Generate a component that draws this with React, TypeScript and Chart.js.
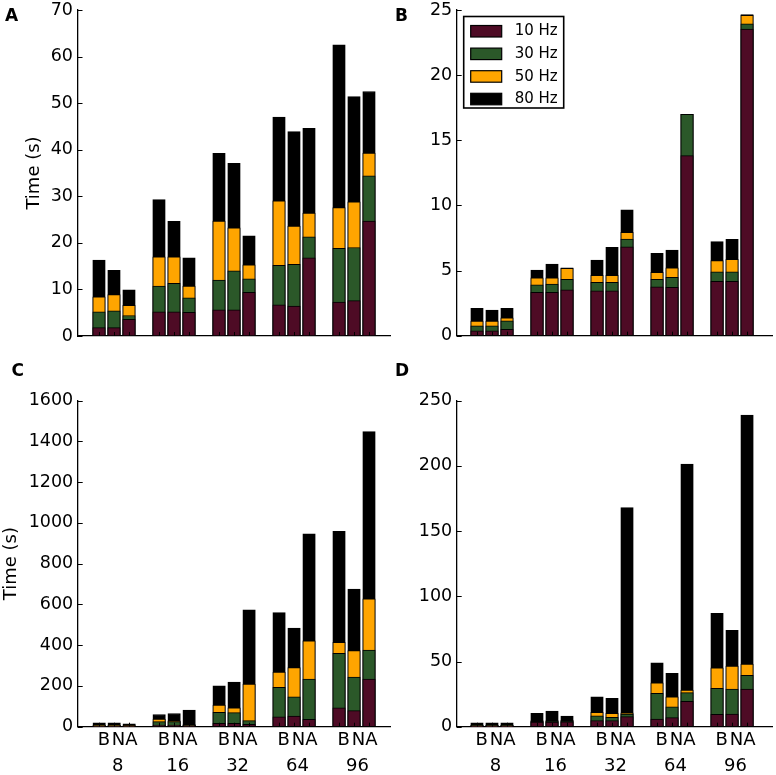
import React, { useEffect, useRef } from 'react';
import { Chart, registerables } from 'chart.js';

Chart.register(...registerables);

const FONT = '"DejaVu Sans", "Liberation Sans", sans-serif';
const W = 776;
const H = 775;

const groupLabels = ['8', '16', '32', '64', '96'];
const methodLabels = ['B', 'N', 'A'];
const seriesLabels = ['10 Hz', '30 Hz', '50 Hz', '80 Hz'];
const seriesColors = ['#4e0b25', '#2b5829', '#ffa500', '#000000'];

// Cumulative stack tops (time in s) per bar, order: 8B, 8N, 8A, 16B, 16N, 16A, ... 96A
// Panel A
const aUpTo10 = [1.8, 1.8, 3.6, 5.2, 5.2, 5.1, 5.6, 5.6, 9.4, 6.7, 6.4, 16.8, 7.3, 7.6, 24.7];
const aUpTo30 = [5.2, 5.4, 4.4, 10.7, 11.3, 8.2, 12.0, 14.0, 12.3, 15.2, 15.4, 21.3, 18.8, 19.0, 34.4];
const aUpTo50 = [8.4, 8.9, 6.6, 17.0, 17.0, 10.7, 24.7, 23.2, 15.3, 29.0, 23.6, 26.4, 27.6, 28.8, 39.3];
const aUpTo80 = [16.3, 14.1, 9.9, 29.3, 24.6, 16.8, 39.2, 37.1, 21.5, 47.0, 43.9, 44.6, 62.5, 51.4, 52.5];
// Panel B
const bUpTo10 = [0.38, 0.38, 0.49, 3.33, 3.33, 3.53, 3.45, 3.45, 6.83, 3.76, 3.71, 13.82, 4.17, 4.17, 23.54];
const bUpTo30 = [0.75, 0.75, 1.15, 3.9, 3.97, 4.32, 4.1, 4.1, 7.42, 4.32, 4.48, 17.0, 4.91, 4.91, 23.93];
const bUpTo50 = [1.13, 1.13, 1.38, 4.45, 4.45, 5.17, 4.63, 4.63, 7.93, 4.86, 5.2, 17.0, 5.76, 5.86, 24.6];
const bUpTo80 = [2.1, 1.97, 2.1, 5.04, 5.5, 5.2, 5.8, 6.78, 9.67, 6.32, 6.58, 17.0, 7.22, 7.4, 24.65];
// Panel C
const cUpTo10 = [2, 2, 2, 8, 8, 5, 16, 16, 12, 49, 52, 36, 93, 79, 234];
const cUpTo30 = [5, 5, 4, 25, 25, 8, 70, 69, 30, 193, 146, 234, 360, 244, 376];
const cUpTo50 = [8, 8, 6, 37, 29, 10, 106, 93, 209, 268, 290, 422, 414, 373, 627];
const cUpTo80 = [19, 19, 14, 60, 65, 82, 200, 219, 574, 560, 484, 946, 959, 676, 1448];
// Panel D
const dUpTo10 = [0.5, 0.5, 0.5, 3.5, 3.5, 3.8, 4.6, 4.6, 7.7, 5.9, 6.9, 19.4, 9.5, 9.7, 28.9];
const dUpTo30 = [1.0, 1.0, 1.0, 4.2, 4.3, 4.4, 8.4, 7.2, 9.7, 25.6, 15.3, 26.1, 29.4, 28.9, 39.4];
const dUpTo50 = [1.3, 1.3, 1.3, 4.6, 4.7, 4.8, 11.0, 10.2, 10.7, 33.7, 23.0, 28.1, 45.2, 46.5, 48.1];
const dUpTo80 = [3.0, 3.0, 3.0, 10.3, 12.0, 8.2, 23.0, 21.7, 168, 49.0, 40.9, 201.4, 86.9, 73.9, 239];

// y-axis tick settings per panel
const yMaxA = 70, yStepA = 10;
const yMaxB = 25, yStepB = 5;
const yMaxC = 1600, yStepC = 200;
const yMaxD = 250, yStepD = 50;

// bar slot positions on the x axis (4 slots per group, last one a gap)
const barX: number[] = [];
groupLabels.forEach((_, gi) => methodLabels.forEach((__, mi) => barX.push(gi * 4 + mi + 1)));
const groupCenterX = groupLabels.map((_, gi) => gi * 4 + 2);

type PanelCfg = {
  letter: string;
  letterX: number;
  letterY: number;
  series: number[][];
  yMax: number;
  yStep: number;
  area: { left: number; top: number; right: number; bottom: number };
  xMin: number;
  xMax: number;
  yAxisWidth: number;
  titlePad: number;
  showTitle: boolean;
  showXLabels: boolean;
  showLegend: boolean;
};

const panels: PanelCfg[] = [
  {
    letter: 'A', letterX: 5, letterY: 21,
    series: [aUpTo10, aUpTo30, aUpTo50, aUpTo80], yMax: yMaxA, yStep: yStepA,
    area: { left: 77.5, top: 10, right: 390, bottom: 336 },
    xMin: -0.433, xMax: 20.4, yAxisWidth: 57.5, titlePad: 3.2,
    showTitle: true, showXLabels: false, showLegend: false,
  },
  {
    letter: 'B', letterX: 395, letterY: 21,
    series: [bUpTo10, bUpTo30, bUpTo50, bUpTo80], yMax: yMaxB, yStep: yStepB,
    area: { left: 456.7, top: 10, right: 772.7, bottom: 335.7 },
    xMin: -0.353, xMax: 20.71, yAxisWidth: 45, titlePad: 0,
    showTitle: false, showXLabels: false, showLegend: true,
  },
  {
    letter: 'C', letterX: 11.5, letterY: 375.5,
    series: [cUpTo10, cUpTo30, cUpTo50, cUpTo80], yMax: yMaxC, yStep: yStepC,
    area: { left: 77.7, top: 400.7, right: 390, bottom: 726.7 },
    xMin: -0.433, xMax: 20.4, yAxisWidth: 76.7, titlePad: 0,
    showTitle: true, showXLabels: true, showLegend: false,
  },
  {
    letter: 'D', letterX: 395, letterY: 375.5,
    series: [dUpTo10, dUpTo30, dUpTo50, dUpTo80], yMax: yMaxD, yStep: yStepD,
    area: { left: 456.7, top: 400.7, right: 772.7, bottom: 726.7 },
    xMin: -0.353, xMax: 20.71, yAxisWidth: 45, titlePad: 0,
    showTitle: false, showXLabels: true, showLegend: false,
  },
];

function makeDecor(cfg: PanelCfg) {
  return {
    id: 'decor' + cfg.letter,
    afterDraw(chart: any) {
      const { ctx, chartArea, scales } = chart;
      ctx.save();
      ctx.strokeStyle = '#000';
      ctx.lineWidth = 1;
      ctx.beginPath();
      scales.y.ticks.forEach((t: any) => {
        const y = Math.round(scales.y.getPixelForValue(t.value)) + 0.5;
        ctx.moveTo(chartArea.left, y);
        ctx.lineTo(chartArea.left + 5, y);
      });
      barX.forEach((x) => {
        const px = Math.round(scales.x.getPixelForValue(x)) + 0.5;
        ctx.moveTo(px, chartArea.bottom);
        ctx.lineTo(px, chartArea.bottom - 4);
      });
      ctx.stroke();

      ctx.fillStyle = '#000';
      ctx.font = `bold 17px ${FONT}`;
      ctx.textAlign = 'left';
      ctx.textBaseline = 'alphabetic';
      ctx.fillText(cfg.letter, cfg.letterX, cfg.letterY);

      if (cfg.showLegend) {
        const lx = chartArea.left + 7;
        const ly = chartArea.top + 6.5;
        const lw = 100;
        const lh = 91.5;
        ctx.fillStyle = '#fff';
        ctx.fillRect(lx, ly, lw, lh);
        ctx.lineWidth = 1.6;
        ctx.strokeStyle = '#000';
        ctx.strokeRect(lx, ly, lw, lh);
        seriesLabels.forEach((lab, i) => {
          const sy = ly + 9 + i * 22.6;
          ctx.fillStyle = seriesColors[i];
          ctx.fillRect(lx + 7, sy, 31, 11.5);
          ctx.lineWidth = 1.2;
          ctx.strokeRect(lx + 7, sy, 31, 11.5);
          ctx.fillStyle = '#000';
          ctx.font = `15px ${FONT}`;
          ctx.textBaseline = 'middle';
          ctx.fillText(lab, lx + 51, sy + 6);
        });
      }
      ctx.restore();
    },
  };
}

function Panel({ cfg }: { cfg: PanelCfg }) {
  const ref = useRef<HTMLCanvasElement | null>(null);
  useEffect(() => {
    if (!ref.current) return;
    const xAxisHeight = cfg.showXLabels ? 48 : 0;
    const chart = new Chart(ref.current, {
      type: 'bar',
      data: {
        datasets: seriesLabels.map((lab, si) => ({
          label: lab,
          data: cfg.series[si].map((v, i) => ({ x: barX[i], y: v })),
          backgroundColor: seriesColors[si],
          borderColor: '#000',
          borderWidth: 1,
          borderSkipped: false,
          barThickness: 12.5,
        })),
      },
      options: {
        responsive: false,
        animation: false,
        devicePixelRatio: 1,
        events: [],
        layout: {
          padding: {
            left: cfg.area.left - cfg.yAxisWidth,
            top: cfg.area.top,
            right: W - cfg.area.right,
            bottom: H - cfg.area.bottom - xAxisHeight,
          },
        },
        plugins: { legend: { display: false }, tooltip: { enabled: false }, title: { display: false } },
        scales: {
          x: {
            type: 'linear',
            min: cfg.xMin,
            max: cfg.xMax,
            stacked: true,
            offset: false,
            grid: { display: false, drawTicks: false, tickLength: 0 },
            border: { display: true, color: '#000', width: 1.3 },
            afterBuildTicks: (s: any) => {
              s.ticks = groupCenterX.map((v) => ({ value: v }));
            },
            ticks: {
              display: cfg.showXLabels,
              autoSkip: false,
              maxRotation: 0,
              minRotation: 0,
              labelOffset: 3.5,
              padding: 0,
              color: '#000',
              font: { family: FONT, size: 18, lineHeight: 1.47 },
              callback: (_v: any, i: number) => [methodLabels[0] + '\u200a' + methodLabels[1] + methodLabels[2], groupLabels[i]],
            },
            afterFit: (s: any) => {
              s.height = xAxisHeight;
              s.paddingLeft = 0;
              s.paddingRight = 0;
            },
          },
          y: {
            type: 'linear',
            min: 0,
            max: cfg.yMax,
            stacked: false,
            grid: { display: false, drawTicks: false, tickLength: 0 },
            border: { display: true, color: '#000', width: 1.3 },
            ticks: {
              stepSize: cfg.yStep,
              padding: 4.5,
              color: '#000',
              font: { family: FONT, size: 17.5 },
              callback: (v: any) => String(v),
            },
            title: {
              display: cfg.showTitle,
              text: 'Time (s)',
              color: '#000',
              font: { family: FONT, size: 18 },
              padding: { top: cfg.titlePad, bottom: 0 },
            },
            afterFit: (s: any) => {
              s.width = cfg.yAxisWidth;
              s.paddingTop = 0;
              s.paddingBottom = 0;
            },
          },
        },
      } as any,
      plugins: [makeDecor(cfg)],
    });
    return () => chart.destroy();
  }, [cfg]);
  return (
    <canvas
      ref={ref}
      width={W}
      height={H}
      style={{ position: 'absolute', left: 0, top: 0, width: W, height: H, pointerEvents: 'none' }}
    />
  );
}

export default function App() {
  return (
    <div style={{ position: 'absolute', left: 0, top: 0, width: W, height: H, background: '#fff' }}>
      {panels.map((p) => (
        <Panel key={p.letter} cfg={p} />
      ))}
    </div>
  );
}
